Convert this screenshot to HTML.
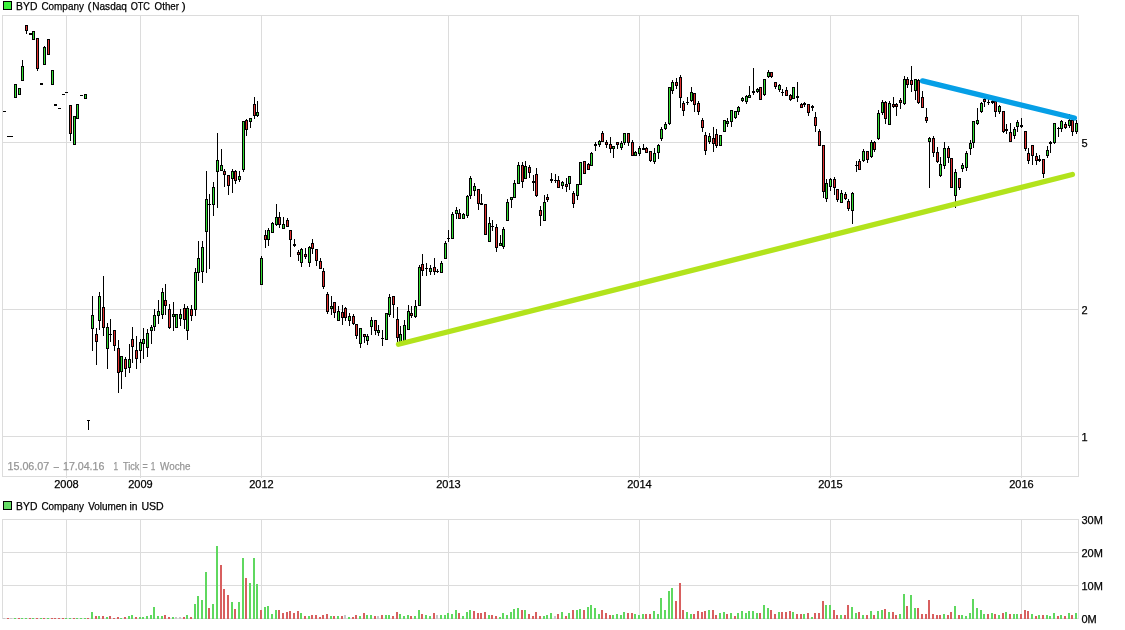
<!DOCTYPE html>
<html><head><meta charset="utf-8"><title>BYD Company</title>
<style>
html,body{margin:0;padding:0;background:#fff;}
svg{display:block;will-change:transform;}
text{font-family:"Liberation Sans",Arial,sans-serif;font-size:11px;stroke-width:0.25px;}
</style></head>
<body>
<svg width="1125" height="630" viewBox="0 0 1125 630">
<rect x="0" y="0" width="1125" height="630" fill="#fff"/>
<g shape-rendering="crispEdges">
<rect x="66" y="15" width="1" height="463" fill="#dcdcdc"/>
<rect x="66" y="519" width="1" height="100" fill="#dcdcdc"/>
<rect x="140" y="15" width="1" height="463" fill="#dcdcdc"/>
<rect x="140" y="519" width="1" height="100" fill="#dcdcdc"/>
<rect x="261" y="15" width="1" height="463" fill="#dcdcdc"/>
<rect x="261" y="519" width="1" height="100" fill="#dcdcdc"/>
<rect x="448" y="15" width="1" height="463" fill="#dcdcdc"/>
<rect x="448" y="519" width="1" height="100" fill="#dcdcdc"/>
<rect x="639" y="15" width="1" height="463" fill="#dcdcdc"/>
<rect x="639" y="519" width="1" height="100" fill="#dcdcdc"/>
<rect x="830" y="15" width="1" height="463" fill="#dcdcdc"/>
<rect x="830" y="519" width="1" height="100" fill="#dcdcdc"/>
<rect x="1021" y="15" width="1" height="463" fill="#dcdcdc"/>
<rect x="1021" y="519" width="1" height="100" fill="#dcdcdc"/>
<rect x="2" y="142" width="1077" height="1" fill="#dcdcdc"/>
<rect x="2" y="309" width="1077" height="1" fill="#dcdcdc"/>
<rect x="2" y="436" width="1077" height="1" fill="#dcdcdc"/>
<rect x="2" y="15" width="1077" height="1" fill="#dcdcdc"/>
<rect x="2" y="476" width="1077" height="1" fill="#dcdcdc"/>
<rect x="2" y="15" width="1" height="462" fill="#dcdcdc"/>
<rect x="1078" y="15" width="1" height="462" fill="#dcdcdc"/>
<rect x="2" y="519" width="1077" height="1" fill="#dcdcdc"/>
<rect x="2" y="552" width="1077" height="1" fill="#dcdcdc"/>
<rect x="2" y="585" width="1077" height="1" fill="#dcdcdc"/>
<rect x="2" y="618" width="1077" height="1" fill="#dcdcdc"/>
<rect x="2" y="519" width="1" height="100" fill="#dcdcdc"/>
<rect x="1078" y="519" width="1" height="100" fill="#dcdcdc"/>
<rect x="3" y="618" width="2" height="1" fill="#c8c8c8"/>
<rect x="7" y="618" width="2" height="1" fill="#d85f5f"/>
<rect x="10" y="618" width="2" height="1" fill="#c8c8c8"/>
<rect x="14" y="618" width="2" height="1" fill="#5fd85f"/>
<rect x="18" y="618" width="2" height="1" fill="#d85f5f"/>
<rect x="21" y="618" width="2" height="1" fill="#5fd85f"/>
<rect x="25" y="618" width="2" height="1" fill="#5fd85f"/>
<rect x="29" y="618" width="2" height="1" fill="#d85f5f"/>
<rect x="32" y="618" width="2" height="1" fill="#5fd85f"/>
<rect x="36" y="618" width="2" height="1" fill="#d85f5f"/>
<rect x="40" y="618" width="2" height="1" fill="#5fd85f"/>
<rect x="43" y="618" width="2" height="1" fill="#d85f5f"/>
<rect x="47" y="618" width="2" height="1" fill="#5fd85f"/>
<rect x="51" y="618" width="2" height="1" fill="#d85f5f"/>
<rect x="54" y="618" width="2" height="1" fill="#d85f5f"/>
<rect x="58" y="618" width="2" height="1" fill="#d85f5f"/>
<rect x="62" y="618" width="2" height="1" fill="#d85f5f"/>
<rect x="65" y="618" width="2" height="1" fill="#5fd85f"/>
<rect x="69" y="618" width="2" height="1" fill="#5fd85f"/>
<rect x="73" y="618" width="2" height="1" fill="#d85f5f"/>
<rect x="76" y="618" width="2" height="1" fill="#5fd85f"/>
<rect x="80" y="618" width="2" height="1" fill="#5fd85f"/>
<rect x="84" y="618" width="2" height="1" fill="#5fd85f"/>
<rect x="87" y="618" width="2" height="1" fill="#d85f5f"/>
<rect x="91" y="612" width="2" height="7" fill="#5fd85f"/>
<rect x="95" y="616" width="2" height="3" fill="#d85f5f"/>
<rect x="98" y="616" width="2" height="3" fill="#5fd85f"/>
<rect x="102" y="616" width="2" height="3" fill="#d85f5f"/>
<rect x="106" y="617" width="2" height="2" fill="#5fd85f"/>
<rect x="109" y="616" width="2" height="3" fill="#d85f5f"/>
<rect x="113" y="618" width="2" height="1" fill="#d85f5f"/>
<rect x="117" y="617" width="2" height="2" fill="#d85f5f"/>
<rect x="120" y="618" width="2" height="1" fill="#5fd85f"/>
<rect x="124" y="617" width="2" height="2" fill="#d85f5f"/>
<rect x="128" y="616" width="2" height="3" fill="#5fd85f"/>
<rect x="131" y="615" width="2" height="4" fill="#5fd85f"/>
<rect x="135" y="617" width="2" height="2" fill="#d85f5f"/>
<rect x="139" y="617" width="2" height="2" fill="#5fd85f"/>
<rect x="142" y="617" width="2" height="2" fill="#5fd85f"/>
<rect x="146" y="616" width="2" height="3" fill="#5fd85f"/>
<rect x="150" y="615" width="2" height="4" fill="#5fd85f"/>
<rect x="153" y="607" width="2" height="12" fill="#5fd85f"/>
<rect x="157" y="616" width="2" height="3" fill="#5fd85f"/>
<rect x="161" y="616" width="2" height="3" fill="#5fd85f"/>
<rect x="164" y="615" width="2" height="4" fill="#d85f5f"/>
<rect x="168" y="617" width="2" height="2" fill="#d85f5f"/>
<rect x="172" y="617" width="2" height="2" fill="#5fd85f"/>
<rect x="175" y="617" width="2" height="2" fill="#c8c8c8"/>
<rect x="179" y="617" width="2" height="2" fill="#c8c8c8"/>
<rect x="183" y="617" width="2" height="2" fill="#d85f5f"/>
<rect x="186" y="615" width="2" height="4" fill="#5fd85f"/>
<rect x="190" y="617" width="2" height="2" fill="#d85f5f"/>
<rect x="194" y="604" width="2" height="15" fill="#5fd85f"/>
<rect x="197" y="596" width="2" height="23" fill="#5fd85f"/>
<rect x="201" y="600" width="2" height="19" fill="#5fd85f"/>
<rect x="205" y="572" width="2" height="47" fill="#5fd85f"/>
<rect x="208" y="608" width="2" height="11" fill="#d85f5f"/>
<rect x="212" y="604" width="2" height="15" fill="#5fd85f"/>
<rect x="216" y="546" width="2" height="73" fill="#5fd85f"/>
<rect x="220" y="565" width="2" height="54" fill="#d85f5f"/>
<rect x="223" y="589" width="2" height="30" fill="#d85f5f"/>
<rect x="227" y="595" width="2" height="24" fill="#d85f5f"/>
<rect x="231" y="602" width="2" height="17" fill="#5fd85f"/>
<rect x="234" y="609" width="2" height="10" fill="#d85f5f"/>
<rect x="238" y="602" width="2" height="17" fill="#5fd85f"/>
<rect x="242" y="558" width="2" height="61" fill="#5fd85f"/>
<rect x="245" y="578" width="2" height="41" fill="#d85f5f"/>
<rect x="249" y="583" width="2" height="36" fill="#5fd85f"/>
<rect x="253" y="558" width="2" height="61" fill="#5fd85f"/>
<rect x="256" y="584" width="2" height="35" fill="#5fd85f"/>
<rect x="260" y="610" width="2" height="9" fill="#d85f5f"/>
<rect x="264" y="607" width="2" height="12" fill="#5fd85f"/>
<rect x="267" y="606" width="2" height="13" fill="#5fd85f"/>
<rect x="271" y="614" width="2" height="5" fill="#5fd85f"/>
<rect x="275" y="610" width="2" height="9" fill="#5fd85f"/>
<rect x="278" y="610" width="2" height="9" fill="#d85f5f"/>
<rect x="282" y="613" width="2" height="6" fill="#d85f5f"/>
<rect x="286" y="612" width="2" height="7" fill="#d85f5f"/>
<rect x="289" y="611" width="2" height="8" fill="#d85f5f"/>
<rect x="293" y="613" width="2" height="6" fill="#d85f5f"/>
<rect x="297" y="611" width="2" height="8" fill="#d85f5f"/>
<rect x="300" y="613" width="2" height="6" fill="#5fd85f"/>
<rect x="304" y="616" width="2" height="3" fill="#d85f5f"/>
<rect x="308" y="616" width="2" height="3" fill="#5fd85f"/>
<rect x="311" y="615" width="2" height="4" fill="#d85f5f"/>
<rect x="315" y="615" width="2" height="4" fill="#d85f5f"/>
<rect x="319" y="617" width="2" height="2" fill="#d85f5f"/>
<rect x="322" y="615" width="2" height="4" fill="#d85f5f"/>
<rect x="326" y="614" width="2" height="5" fill="#d85f5f"/>
<rect x="330" y="616" width="2" height="3" fill="#5fd85f"/>
<rect x="333" y="616" width="2" height="3" fill="#d85f5f"/>
<rect x="337" y="616" width="2" height="3" fill="#5fd85f"/>
<rect x="341" y="616" width="2" height="3" fill="#d85f5f"/>
<rect x="344" y="615" width="2" height="4" fill="#c8c8c8"/>
<rect x="348" y="617" width="2" height="2" fill="#5fd85f"/>
<rect x="352" y="617" width="2" height="2" fill="#d85f5f"/>
<rect x="355" y="615" width="2" height="4" fill="#d85f5f"/>
<rect x="359" y="616" width="2" height="3" fill="#5fd85f"/>
<rect x="363" y="613" width="2" height="6" fill="#d85f5f"/>
<rect x="366" y="615" width="2" height="4" fill="#5fd85f"/>
<rect x="370" y="615" width="2" height="4" fill="#5fd85f"/>
<rect x="374" y="616" width="2" height="3" fill="#d85f5f"/>
<rect x="377" y="616" width="2" height="3" fill="#c8c8c8"/>
<rect x="381" y="615" width="2" height="4" fill="#d85f5f"/>
<rect x="385" y="615" width="2" height="4" fill="#5fd85f"/>
<rect x="388" y="615" width="2" height="4" fill="#5fd85f"/>
<rect x="392" y="616" width="2" height="3" fill="#d85f5f"/>
<rect x="396" y="612" width="2" height="7" fill="#d85f5f"/>
<rect x="399" y="614" width="2" height="5" fill="#5fd85f"/>
<rect x="403" y="616" width="2" height="3" fill="#5fd85f"/>
<rect x="407" y="615" width="2" height="4" fill="#5fd85f"/>
<rect x="410" y="616" width="2" height="3" fill="#d85f5f"/>
<rect x="414" y="616" width="2" height="3" fill="#5fd85f"/>
<rect x="418" y="610" width="2" height="9" fill="#5fd85f"/>
<rect x="421" y="614" width="2" height="5" fill="#d85f5f"/>
<rect x="425" y="615" width="2" height="4" fill="#5fd85f"/>
<rect x="429" y="616" width="2" height="3" fill="#5fd85f"/>
<rect x="433" y="613" width="2" height="6" fill="#d85f5f"/>
<rect x="436" y="615" width="2" height="4" fill="#c8c8c8"/>
<rect x="440" y="615" width="2" height="4" fill="#5fd85f"/>
<rect x="444" y="615" width="2" height="4" fill="#5fd85f"/>
<rect x="447" y="613" width="2" height="6" fill="#5fd85f"/>
<rect x="451" y="614" width="2" height="5" fill="#5fd85f"/>
<rect x="455" y="610" width="2" height="9" fill="#5fd85f"/>
<rect x="458" y="613" width="2" height="6" fill="#d85f5f"/>
<rect x="462" y="616" width="2" height="3" fill="#5fd85f"/>
<rect x="466" y="612" width="2" height="7" fill="#5fd85f"/>
<rect x="469" y="610" width="2" height="9" fill="#5fd85f"/>
<rect x="473" y="611" width="2" height="8" fill="#d85f5f"/>
<rect x="477" y="613" width="2" height="6" fill="#d85f5f"/>
<rect x="480" y="613" width="2" height="6" fill="#d85f5f"/>
<rect x="484" y="612" width="2" height="7" fill="#d85f5f"/>
<rect x="488" y="615" width="2" height="4" fill="#5fd85f"/>
<rect x="491" y="615" width="2" height="4" fill="#d85f5f"/>
<rect x="495" y="616" width="2" height="3" fill="#d85f5f"/>
<rect x="499" y="617" width="2" height="2" fill="#5fd85f"/>
<rect x="502" y="613" width="2" height="6" fill="#5fd85f"/>
<rect x="506" y="615" width="2" height="4" fill="#5fd85f"/>
<rect x="510" y="612" width="2" height="7" fill="#5fd85f"/>
<rect x="513" y="609" width="2" height="10" fill="#5fd85f"/>
<rect x="517" y="608" width="2" height="11" fill="#5fd85f"/>
<rect x="521" y="610" width="2" height="9" fill="#d85f5f"/>
<rect x="524" y="610" width="2" height="9" fill="#5fd85f"/>
<rect x="528" y="614" width="2" height="5" fill="#d85f5f"/>
<rect x="532" y="616" width="2" height="3" fill="#d85f5f"/>
<rect x="535" y="612" width="2" height="7" fill="#d85f5f"/>
<rect x="539" y="616" width="2" height="3" fill="#d85f5f"/>
<rect x="543" y="616" width="2" height="3" fill="#5fd85f"/>
<rect x="546" y="615" width="2" height="4" fill="#5fd85f"/>
<rect x="550" y="613" width="2" height="6" fill="#5fd85f"/>
<rect x="554" y="616" width="2" height="3" fill="#c8c8c8"/>
<rect x="557" y="614" width="2" height="5" fill="#d85f5f"/>
<rect x="561" y="612" width="2" height="7" fill="#5fd85f"/>
<rect x="565" y="616" width="2" height="3" fill="#d85f5f"/>
<rect x="568" y="613" width="2" height="6" fill="#5fd85f"/>
<rect x="572" y="610" width="2" height="9" fill="#d85f5f"/>
<rect x="576" y="610" width="2" height="9" fill="#5fd85f"/>
<rect x="579" y="609" width="2" height="10" fill="#5fd85f"/>
<rect x="583" y="610" width="2" height="9" fill="#d85f5f"/>
<rect x="587" y="607" width="2" height="12" fill="#5fd85f"/>
<rect x="590" y="605" width="2" height="14" fill="#5fd85f"/>
<rect x="594" y="608" width="2" height="11" fill="#5fd85f"/>
<rect x="598" y="614" width="2" height="5" fill="#5fd85f"/>
<rect x="601" y="610" width="2" height="9" fill="#d85f5f"/>
<rect x="605" y="613" width="2" height="6" fill="#d85f5f"/>
<rect x="609" y="615" width="2" height="4" fill="#d85f5f"/>
<rect x="612" y="615" width="2" height="4" fill="#5fd85f"/>
<rect x="616" y="614" width="2" height="5" fill="#5fd85f"/>
<rect x="620" y="615" width="2" height="4" fill="#5fd85f"/>
<rect x="623" y="612" width="2" height="7" fill="#5fd85f"/>
<rect x="627" y="613" width="2" height="6" fill="#d85f5f"/>
<rect x="631" y="613" width="2" height="6" fill="#d85f5f"/>
<rect x="634" y="614" width="2" height="5" fill="#5fd85f"/>
<rect x="638" y="615" width="2" height="4" fill="#5fd85f"/>
<rect x="642" y="614" width="2" height="5" fill="#5fd85f"/>
<rect x="645" y="614" width="2" height="5" fill="#d85f5f"/>
<rect x="649" y="614" width="2" height="5" fill="#d85f5f"/>
<rect x="653" y="611" width="2" height="8" fill="#5fd85f"/>
<rect x="657" y="614" width="2" height="5" fill="#5fd85f"/>
<rect x="660" y="598" width="2" height="21" fill="#5fd85f"/>
<rect x="664" y="610" width="2" height="9" fill="#5fd85f"/>
<rect x="668" y="591" width="2" height="28" fill="#5fd85f"/>
<rect x="671" y="588" width="2" height="31" fill="#5fd85f"/>
<rect x="675" y="601" width="2" height="18" fill="#d85f5f"/>
<rect x="679" y="583" width="2" height="36" fill="#d85f5f"/>
<rect x="682" y="610" width="2" height="9" fill="#d85f5f"/>
<rect x="686" y="612" width="2" height="7" fill="#5fd85f"/>
<rect x="690" y="614" width="2" height="5" fill="#5fd85f"/>
<rect x="693" y="614" width="2" height="5" fill="#d85f5f"/>
<rect x="697" y="611" width="2" height="8" fill="#d85f5f"/>
<rect x="701" y="612" width="2" height="7" fill="#d85f5f"/>
<rect x="704" y="611" width="2" height="8" fill="#d85f5f"/>
<rect x="708" y="610" width="2" height="9" fill="#5fd85f"/>
<rect x="712" y="610" width="2" height="9" fill="#d85f5f"/>
<rect x="715" y="615" width="2" height="4" fill="#d85f5f"/>
<rect x="719" y="613" width="2" height="6" fill="#5fd85f"/>
<rect x="723" y="612" width="2" height="7" fill="#5fd85f"/>
<rect x="726" y="614" width="2" height="5" fill="#d85f5f"/>
<rect x="730" y="613" width="2" height="6" fill="#5fd85f"/>
<rect x="734" y="616" width="2" height="3" fill="#d85f5f"/>
<rect x="737" y="613" width="2" height="6" fill="#5fd85f"/>
<rect x="741" y="611" width="2" height="8" fill="#5fd85f"/>
<rect x="745" y="613" width="2" height="6" fill="#5fd85f"/>
<rect x="748" y="611" width="2" height="8" fill="#5fd85f"/>
<rect x="752" y="611" width="2" height="8" fill="#5fd85f"/>
<rect x="756" y="613" width="2" height="6" fill="#5fd85f"/>
<rect x="759" y="613" width="2" height="6" fill="#d85f5f"/>
<rect x="763" y="605" width="2" height="14" fill="#5fd85f"/>
<rect x="767" y="608" width="2" height="11" fill="#5fd85f"/>
<rect x="770" y="610" width="2" height="9" fill="#d85f5f"/>
<rect x="774" y="614" width="2" height="5" fill="#d85f5f"/>
<rect x="778" y="612" width="2" height="7" fill="#5fd85f"/>
<rect x="781" y="612" width="2" height="7" fill="#d85f5f"/>
<rect x="785" y="612" width="2" height="7" fill="#d85f5f"/>
<rect x="789" y="611" width="2" height="8" fill="#d85f5f"/>
<rect x="792" y="612" width="2" height="7" fill="#5fd85f"/>
<rect x="796" y="614" width="2" height="5" fill="#d85f5f"/>
<rect x="800" y="614" width="2" height="5" fill="#d85f5f"/>
<rect x="803" y="614" width="2" height="5" fill="#5fd85f"/>
<rect x="807" y="613" width="2" height="6" fill="#d85f5f"/>
<rect x="811" y="617" width="2" height="2" fill="#5fd85f"/>
<rect x="814" y="613" width="2" height="6" fill="#d85f5f"/>
<rect x="818" y="613" width="2" height="6" fill="#d85f5f"/>
<rect x="822" y="601" width="2" height="18" fill="#d85f5f"/>
<rect x="825" y="605" width="2" height="14" fill="#5fd85f"/>
<rect x="829" y="605" width="2" height="14" fill="#5fd85f"/>
<rect x="833" y="610" width="2" height="9" fill="#d85f5f"/>
<rect x="836" y="615" width="2" height="4" fill="#d85f5f"/>
<rect x="840" y="615" width="2" height="4" fill="#5fd85f"/>
<rect x="844" y="615" width="2" height="4" fill="#d85f5f"/>
<rect x="847" y="605" width="2" height="14" fill="#d85f5f"/>
<rect x="851" y="607" width="2" height="12" fill="#5fd85f"/>
<rect x="855" y="613" width="2" height="6" fill="#5fd85f"/>
<rect x="858" y="612" width="2" height="7" fill="#d85f5f"/>
<rect x="862" y="615" width="2" height="4" fill="#5fd85f"/>
<rect x="866" y="615" width="2" height="4" fill="#d85f5f"/>
<rect x="870" y="611" width="2" height="8" fill="#5fd85f"/>
<rect x="873" y="615" width="2" height="4" fill="#d85f5f"/>
<rect x="877" y="611" width="2" height="8" fill="#5fd85f"/>
<rect x="881" y="610" width="2" height="9" fill="#5fd85f"/>
<rect x="884" y="609" width="2" height="10" fill="#d85f5f"/>
<rect x="888" y="612" width="2" height="7" fill="#5fd85f"/>
<rect x="892" y="612" width="2" height="7" fill="#d85f5f"/>
<rect x="895" y="615" width="2" height="4" fill="#d85f5f"/>
<rect x="899" y="614" width="2" height="5" fill="#5fd85f"/>
<rect x="903" y="594" width="2" height="25" fill="#5fd85f"/>
<rect x="906" y="606" width="2" height="13" fill="#d85f5f"/>
<rect x="910" y="595" width="2" height="24" fill="#5fd85f"/>
<rect x="914" y="608" width="2" height="11" fill="#5fd85f"/>
<rect x="917" y="608" width="2" height="11" fill="#d85f5f"/>
<rect x="921" y="614" width="2" height="5" fill="#d85f5f"/>
<rect x="925" y="614" width="2" height="5" fill="#d85f5f"/>
<rect x="928" y="600" width="2" height="19" fill="#d85f5f"/>
<rect x="932" y="614" width="2" height="5" fill="#d85f5f"/>
<rect x="936" y="615" width="2" height="4" fill="#d85f5f"/>
<rect x="939" y="615" width="2" height="4" fill="#d85f5f"/>
<rect x="943" y="614" width="2" height="5" fill="#5fd85f"/>
<rect x="947" y="615" width="2" height="4" fill="#d85f5f"/>
<rect x="950" y="612" width="2" height="7" fill="#d85f5f"/>
<rect x="954" y="606" width="2" height="13" fill="#5fd85f"/>
<rect x="958" y="615" width="2" height="4" fill="#d85f5f"/>
<rect x="961" y="615" width="2" height="4" fill="#5fd85f"/>
<rect x="965" y="616" width="2" height="3" fill="#5fd85f"/>
<rect x="969" y="613" width="2" height="6" fill="#5fd85f"/>
<rect x="972" y="599" width="2" height="20" fill="#5fd85f"/>
<rect x="976" y="608" width="2" height="11" fill="#5fd85f"/>
<rect x="980" y="610" width="2" height="9" fill="#5fd85f"/>
<rect x="983" y="614" width="2" height="5" fill="#5fd85f"/>
<rect x="987" y="614" width="2" height="5" fill="#d85f5f"/>
<rect x="991" y="613" width="2" height="6" fill="#5fd85f"/>
<rect x="994" y="614" width="2" height="5" fill="#d85f5f"/>
<rect x="998" y="615" width="2" height="4" fill="#5fd85f"/>
<rect x="1002" y="613" width="2" height="6" fill="#d85f5f"/>
<rect x="1005" y="612" width="2" height="7" fill="#5fd85f"/>
<rect x="1009" y="614" width="2" height="5" fill="#d85f5f"/>
<rect x="1013" y="614" width="2" height="5" fill="#5fd85f"/>
<rect x="1016" y="614" width="2" height="5" fill="#5fd85f"/>
<rect x="1020" y="614" width="2" height="5" fill="#d85f5f"/>
<rect x="1024" y="610" width="2" height="9" fill="#d85f5f"/>
<rect x="1027" y="611" width="2" height="8" fill="#d85f5f"/>
<rect x="1031" y="614" width="2" height="5" fill="#5fd85f"/>
<rect x="1035" y="616" width="2" height="3" fill="#d85f5f"/>
<rect x="1038" y="615" width="2" height="4" fill="#5fd85f"/>
<rect x="1042" y="615" width="2" height="4" fill="#d85f5f"/>
<rect x="1046" y="615" width="2" height="4" fill="#5fd85f"/>
<rect x="1049" y="616" width="2" height="3" fill="#5fd85f"/>
<rect x="1053" y="613" width="2" height="6" fill="#5fd85f"/>
<rect x="1057" y="616" width="2" height="3" fill="#d85f5f"/>
<rect x="1060" y="615" width="2" height="4" fill="#5fd85f"/>
<rect x="1064" y="616" width="2" height="3" fill="#d85f5f"/>
<rect x="1068" y="613" width="2" height="6" fill="#5fd85f"/>
<rect x="1071" y="615" width="2" height="4" fill="#d85f5f"/>
<rect x="1075" y="613" width="2" height="6" fill="#5fd85f"/>
<rect x="3" y="111" width="3" height="1" fill="#000"/>
<rect x="7" y="136" width="3" height="1" fill="#000"/>
<rect x="10" y="136" width="3" height="1" fill="#000"/>
<rect x="15" y="84" width="1" height="14" fill="#000"/>
<rect x="14" y="84" width="3" height="14" fill="#000"/>
<rect x="15" y="85" width="1" height="12" fill="#33dd33"/>
<rect x="19" y="88" width="1" height="7" fill="#000"/>
<rect x="18" y="88" width="3" height="7" fill="#000"/>
<rect x="19" y="89" width="1" height="5" fill="#33dd33"/>
<rect x="22" y="60" width="1" height="21" fill="#000"/>
<rect x="21" y="66" width="3" height="15" fill="#000"/>
<rect x="22" y="67" width="1" height="13" fill="#33dd33"/>
<rect x="26" y="25" width="1" height="9" fill="#000"/>
<rect x="25" y="25" width="3" height="6" fill="#000"/>
<rect x="26" y="26" width="1" height="4" fill="#e03030"/>
<rect x="30" y="33" width="1" height="2" fill="#000"/>
<rect x="29" y="33" width="3" height="2" fill="#000"/>
<rect x="33" y="31" width="1" height="9" fill="#000"/>
<rect x="32" y="31" width="3" height="9" fill="#000"/>
<rect x="33" y="32" width="1" height="7" fill="#33dd33"/>
<rect x="37" y="38" width="1" height="33" fill="#000"/>
<rect x="36" y="38" width="3" height="31" fill="#000"/>
<rect x="37" y="39" width="1" height="29" fill="#e03030"/>
<rect x="41" y="83" width="1" height="2" fill="#000"/>
<rect x="40" y="83" width="3" height="2" fill="#000"/>
<rect x="44" y="46" width="1" height="19" fill="#000"/>
<rect x="43" y="47" width="3" height="18" fill="#000"/>
<rect x="44" y="48" width="1" height="16" fill="#33dd33"/>
<rect x="48" y="39" width="1" height="16" fill="#000"/>
<rect x="47" y="39" width="3" height="16" fill="#000"/>
<rect x="48" y="40" width="1" height="14" fill="#e03030"/>
<rect x="52" y="70" width="1" height="15" fill="#000"/>
<rect x="51" y="70" width="3" height="15" fill="#000"/>
<rect x="52" y="71" width="1" height="13" fill="#33dd33"/>
<rect x="55" y="104" width="1" height="1" fill="#000"/>
<rect x="54" y="104" width="3" height="2" fill="#000"/>
<rect x="58" y="108" width="3" height="1" fill="#000"/>
<rect x="62" y="94" width="3" height="1" fill="#000"/>
<rect x="65" y="92" width="3" height="1" fill="#000"/>
<rect x="70" y="105" width="1" height="36" fill="#000"/>
<rect x="69" y="105" width="3" height="29" fill="#000"/>
<rect x="70" y="106" width="1" height="27" fill="#e03030"/>
<rect x="74" y="116" width="1" height="29" fill="#000"/>
<rect x="73" y="116" width="3" height="29" fill="#000"/>
<rect x="74" y="117" width="1" height="27" fill="#33dd33"/>
<rect x="77" y="104" width="1" height="15" fill="#000"/>
<rect x="76" y="104" width="3" height="15" fill="#000"/>
<rect x="77" y="105" width="1" height="13" fill="#33dd33"/>
<rect x="80" y="95" width="3" height="1" fill="#000"/>
<rect x="85" y="94" width="1" height="5" fill="#000"/>
<rect x="84" y="94" width="3" height="5" fill="#000"/>
<rect x="85" y="95" width="1" height="3" fill="#33dd33"/>
<rect x="88" y="420" width="1" height="10" fill="#000"/>
<rect x="87" y="420" width="3" height="1" fill="#000"/>
<rect x="92" y="296" width="1" height="55" fill="#000"/>
<rect x="91" y="315" width="3" height="14" fill="#000"/>
<rect x="92" y="316" width="1" height="12" fill="#33dd33"/>
<rect x="96" y="328" width="1" height="37" fill="#000"/>
<rect x="95" y="334" width="3" height="8" fill="#000"/>
<rect x="96" y="335" width="1" height="6" fill="#e03030"/>
<rect x="99" y="292" width="1" height="38" fill="#000"/>
<rect x="98" y="296" width="3" height="25" fill="#000"/>
<rect x="99" y="297" width="1" height="23" fill="#33dd33"/>
<rect x="103" y="276" width="1" height="60" fill="#000"/>
<rect x="102" y="307" width="3" height="21" fill="#000"/>
<rect x="103" y="308" width="1" height="19" fill="#e03030"/>
<rect x="107" y="323" width="1" height="46" fill="#000"/>
<rect x="106" y="327" width="3" height="22" fill="#000"/>
<rect x="107" y="328" width="1" height="20" fill="#33dd33"/>
<rect x="110" y="319" width="1" height="23" fill="#000"/>
<rect x="109" y="334" width="3" height="1" fill="#000"/>
<rect x="114" y="330" width="1" height="21" fill="#000"/>
<rect x="113" y="330" width="3" height="16" fill="#000"/>
<rect x="114" y="331" width="1" height="14" fill="#e03030"/>
<rect x="118" y="340" width="1" height="53" fill="#000"/>
<rect x="117" y="348" width="3" height="25" fill="#000"/>
<rect x="118" y="349" width="1" height="23" fill="#e03030"/>
<rect x="121" y="356" width="1" height="33" fill="#000"/>
<rect x="120" y="356" width="3" height="16" fill="#000"/>
<rect x="121" y="357" width="1" height="14" fill="#33dd33"/>
<rect x="125" y="357" width="1" height="20" fill="#000"/>
<rect x="124" y="359" width="3" height="10" fill="#000"/>
<rect x="125" y="360" width="1" height="8" fill="#e03030"/>
<rect x="129" y="344" width="1" height="29" fill="#000"/>
<rect x="128" y="359" width="3" height="9" fill="#000"/>
<rect x="129" y="360" width="1" height="7" fill="#33dd33"/>
<rect x="132" y="327" width="1" height="36" fill="#000"/>
<rect x="131" y="339" width="3" height="8" fill="#000"/>
<rect x="132" y="340" width="1" height="6" fill="#e03030"/>
<rect x="136" y="336" width="1" height="33" fill="#000"/>
<rect x="135" y="350" width="3" height="9" fill="#000"/>
<rect x="136" y="351" width="1" height="7" fill="#e03030"/>
<rect x="140" y="339" width="1" height="24" fill="#000"/>
<rect x="139" y="342" width="3" height="9" fill="#000"/>
<rect x="140" y="343" width="1" height="7" fill="#33dd33"/>
<rect x="143" y="328" width="1" height="31" fill="#000"/>
<rect x="142" y="339" width="3" height="5" fill="#000"/>
<rect x="143" y="340" width="1" height="3" fill="#33dd33"/>
<rect x="147" y="329" width="1" height="28" fill="#000"/>
<rect x="146" y="333" width="3" height="15" fill="#000"/>
<rect x="147" y="334" width="1" height="13" fill="#33dd33"/>
<rect x="151" y="325" width="1" height="19" fill="#000"/>
<rect x="150" y="327" width="3" height="4" fill="#000"/>
<rect x="151" y="328" width="1" height="2" fill="#33dd33"/>
<rect x="154" y="309" width="1" height="22" fill="#000"/>
<rect x="153" y="315" width="3" height="12" fill="#000"/>
<rect x="154" y="316" width="1" height="10" fill="#33dd33"/>
<rect x="158" y="300" width="1" height="24" fill="#000"/>
<rect x="157" y="311" width="3" height="5" fill="#000"/>
<rect x="158" y="312" width="1" height="3" fill="#33dd33"/>
<rect x="162" y="288" width="1" height="31" fill="#000"/>
<rect x="161" y="292" width="3" height="23" fill="#000"/>
<rect x="162" y="293" width="1" height="21" fill="#33dd33"/>
<rect x="165" y="284" width="1" height="31" fill="#000"/>
<rect x="164" y="300" width="3" height="6" fill="#000"/>
<rect x="165" y="301" width="1" height="4" fill="#e03030"/>
<rect x="169" y="304" width="1" height="25" fill="#000"/>
<rect x="168" y="309" width="3" height="19" fill="#000"/>
<rect x="169" y="310" width="1" height="17" fill="#e03030"/>
<rect x="173" y="302" width="1" height="29" fill="#000"/>
<rect x="172" y="314" width="3" height="3" fill="#000"/>
<rect x="173" y="315" width="1" height="1" fill="#33dd33"/>
<rect x="176" y="314" width="1" height="14" fill="#000"/>
<rect x="175" y="314" width="3" height="14" fill="#000"/>
<rect x="176" y="315" width="1" height="12" fill="#33dd33"/>
<rect x="180" y="309" width="1" height="17" fill="#000"/>
<rect x="179" y="314" width="3" height="5" fill="#000"/>
<rect x="180" y="315" width="1" height="3" fill="#33dd33"/>
<rect x="184" y="304" width="1" height="25" fill="#000"/>
<rect x="183" y="308" width="3" height="12" fill="#000"/>
<rect x="184" y="309" width="1" height="10" fill="#e03030"/>
<rect x="187" y="306" width="1" height="34" fill="#000"/>
<rect x="186" y="308" width="3" height="23" fill="#000"/>
<rect x="187" y="309" width="1" height="21" fill="#33dd33"/>
<rect x="191" y="305" width="1" height="16" fill="#000"/>
<rect x="190" y="309" width="3" height="7" fill="#000"/>
<rect x="191" y="310" width="1" height="5" fill="#e03030"/>
<rect x="195" y="268" width="1" height="48" fill="#000"/>
<rect x="194" y="272" width="3" height="38" fill="#000"/>
<rect x="195" y="273" width="1" height="36" fill="#33dd33"/>
<rect x="198" y="241" width="1" height="40" fill="#000"/>
<rect x="197" y="258" width="3" height="15" fill="#000"/>
<rect x="198" y="259" width="1" height="13" fill="#33dd33"/>
<rect x="202" y="241" width="1" height="42" fill="#000"/>
<rect x="201" y="247" width="3" height="25" fill="#000"/>
<rect x="202" y="248" width="1" height="23" fill="#33dd33"/>
<rect x="206" y="171" width="1" height="102" fill="#000"/>
<rect x="205" y="199" width="3" height="33" fill="#000"/>
<rect x="206" y="200" width="1" height="31" fill="#33dd33"/>
<rect x="209" y="194" width="1" height="75" fill="#000"/>
<rect x="208" y="204" width="3" height="1" fill="#000"/>
<rect x="213" y="182" width="1" height="34" fill="#000"/>
<rect x="212" y="187" width="3" height="18" fill="#000"/>
<rect x="213" y="188" width="1" height="16" fill="#33dd33"/>
<rect x="217" y="133" width="1" height="75" fill="#000"/>
<rect x="216" y="160" width="3" height="12" fill="#000"/>
<rect x="217" y="161" width="1" height="10" fill="#33dd33"/>
<rect x="221" y="149" width="1" height="22" fill="#000"/>
<rect x="220" y="165" width="3" height="6" fill="#000"/>
<rect x="221" y="166" width="1" height="4" fill="#33dd33"/>
<rect x="224" y="169" width="1" height="18" fill="#000"/>
<rect x="223" y="171" width="3" height="4" fill="#000"/>
<rect x="224" y="172" width="1" height="2" fill="#e03030"/>
<rect x="228" y="175" width="1" height="20" fill="#000"/>
<rect x="227" y="175" width="3" height="11" fill="#000"/>
<rect x="228" y="176" width="1" height="9" fill="#e03030"/>
<rect x="232" y="169" width="1" height="24" fill="#000"/>
<rect x="231" y="171" width="3" height="8" fill="#000"/>
<rect x="232" y="172" width="1" height="6" fill="#33dd33"/>
<rect x="235" y="170" width="1" height="14" fill="#000"/>
<rect x="234" y="171" width="3" height="10" fill="#000"/>
<rect x="235" y="172" width="1" height="8" fill="#e03030"/>
<rect x="239" y="171" width="1" height="11" fill="#000"/>
<rect x="238" y="176" width="3" height="4" fill="#000"/>
<rect x="239" y="177" width="1" height="2" fill="#33dd33"/>
<rect x="243" y="121" width="1" height="51" fill="#000"/>
<rect x="242" y="121" width="3" height="49" fill="#000"/>
<rect x="243" y="122" width="1" height="47" fill="#33dd33"/>
<rect x="246" y="119" width="1" height="17" fill="#000"/>
<rect x="245" y="120" width="3" height="10" fill="#000"/>
<rect x="246" y="121" width="1" height="8" fill="#e03030"/>
<rect x="250" y="118" width="1" height="10" fill="#000"/>
<rect x="249" y="118" width="3" height="4" fill="#000"/>
<rect x="250" y="119" width="1" height="2" fill="#33dd33"/>
<rect x="254" y="97" width="1" height="22" fill="#000"/>
<rect x="253" y="104" width="3" height="12" fill="#000"/>
<rect x="254" y="105" width="1" height="10" fill="#e03030"/>
<rect x="257" y="101" width="1" height="16" fill="#000"/>
<rect x="256" y="112" width="3" height="4" fill="#000"/>
<rect x="257" y="113" width="1" height="2" fill="#33dd33"/>
<rect x="261" y="256" width="1" height="29" fill="#000"/>
<rect x="260" y="258" width="3" height="27" fill="#000"/>
<rect x="261" y="259" width="1" height="25" fill="#33dd33"/>
<rect x="265" y="230" width="1" height="18" fill="#000"/>
<rect x="264" y="235" width="3" height="5" fill="#000"/>
<rect x="265" y="236" width="1" height="3" fill="#e03030"/>
<rect x="268" y="228" width="1" height="18" fill="#000"/>
<rect x="267" y="230" width="3" height="10" fill="#000"/>
<rect x="268" y="231" width="1" height="8" fill="#33dd33"/>
<rect x="272" y="222" width="1" height="11" fill="#000"/>
<rect x="271" y="223" width="3" height="10" fill="#000"/>
<rect x="272" y="224" width="1" height="8" fill="#33dd33"/>
<rect x="276" y="204" width="1" height="22" fill="#000"/>
<rect x="275" y="217" width="3" height="8" fill="#000"/>
<rect x="276" y="218" width="1" height="6" fill="#33dd33"/>
<rect x="279" y="212" width="1" height="16" fill="#000"/>
<rect x="278" y="217" width="3" height="8" fill="#000"/>
<rect x="279" y="218" width="1" height="6" fill="#e03030"/>
<rect x="283" y="217" width="1" height="12" fill="#000"/>
<rect x="282" y="224" width="3" height="5" fill="#000"/>
<rect x="283" y="225" width="1" height="3" fill="#33dd33"/>
<rect x="287" y="218" width="1" height="9" fill="#000"/>
<rect x="286" y="220" width="3" height="7" fill="#000"/>
<rect x="287" y="221" width="1" height="5" fill="#e03030"/>
<rect x="290" y="230" width="1" height="27" fill="#000"/>
<rect x="289" y="230" width="3" height="10" fill="#000"/>
<rect x="290" y="231" width="1" height="8" fill="#e03030"/>
<rect x="294" y="239" width="1" height="8" fill="#000"/>
<rect x="293" y="244" width="3" height="2" fill="#000"/>
<rect x="298" y="250" width="1" height="11" fill="#000"/>
<rect x="297" y="252" width="3" height="3" fill="#000"/>
<rect x="298" y="253" width="1" height="1" fill="#e03030"/>
<rect x="301" y="248" width="1" height="19" fill="#000"/>
<rect x="300" y="249" width="3" height="14" fill="#000"/>
<rect x="301" y="250" width="1" height="12" fill="#33dd33"/>
<rect x="305" y="248" width="1" height="11" fill="#000"/>
<rect x="304" y="254" width="3" height="3" fill="#000"/>
<rect x="305" y="255" width="1" height="1" fill="#e03030"/>
<rect x="309" y="246" width="1" height="21" fill="#000"/>
<rect x="308" y="247" width="3" height="16" fill="#000"/>
<rect x="309" y="248" width="1" height="14" fill="#33dd33"/>
<rect x="312" y="239" width="1" height="15" fill="#000"/>
<rect x="311" y="243" width="3" height="6" fill="#000"/>
<rect x="312" y="244" width="1" height="4" fill="#e03030"/>
<rect x="316" y="249" width="1" height="17" fill="#000"/>
<rect x="315" y="249" width="3" height="12" fill="#000"/>
<rect x="316" y="250" width="1" height="10" fill="#e03030"/>
<rect x="320" y="258" width="1" height="11" fill="#000"/>
<rect x="319" y="261" width="3" height="8" fill="#000"/>
<rect x="320" y="262" width="1" height="6" fill="#e03030"/>
<rect x="323" y="268" width="1" height="21" fill="#000"/>
<rect x="322" y="271" width="3" height="16" fill="#000"/>
<rect x="323" y="272" width="1" height="14" fill="#e03030"/>
<rect x="327" y="292" width="1" height="22" fill="#000"/>
<rect x="326" y="294" width="3" height="18" fill="#000"/>
<rect x="327" y="295" width="1" height="16" fill="#e03030"/>
<rect x="331" y="296" width="1" height="19" fill="#000"/>
<rect x="330" y="306" width="3" height="3" fill="#000"/>
<rect x="331" y="307" width="1" height="1" fill="#33dd33"/>
<rect x="334" y="302" width="1" height="16" fill="#000"/>
<rect x="333" y="302" width="3" height="11" fill="#000"/>
<rect x="334" y="303" width="1" height="9" fill="#e03030"/>
<rect x="338" y="306" width="1" height="15" fill="#000"/>
<rect x="337" y="311" width="3" height="10" fill="#000"/>
<rect x="338" y="312" width="1" height="8" fill="#33dd33"/>
<rect x="342" y="305" width="1" height="20" fill="#000"/>
<rect x="341" y="312" width="3" height="6" fill="#000"/>
<rect x="342" y="313" width="1" height="4" fill="#e03030"/>
<rect x="345" y="307" width="1" height="14" fill="#000"/>
<rect x="344" y="308" width="3" height="10" fill="#000"/>
<rect x="345" y="309" width="1" height="8" fill="#e03030"/>
<rect x="349" y="313" width="1" height="13" fill="#000"/>
<rect x="348" y="316" width="3" height="5" fill="#000"/>
<rect x="349" y="317" width="1" height="3" fill="#33dd33"/>
<rect x="353" y="314" width="1" height="11" fill="#000"/>
<rect x="352" y="316" width="3" height="8" fill="#000"/>
<rect x="353" y="317" width="1" height="6" fill="#e03030"/>
<rect x="356" y="324" width="1" height="15" fill="#000"/>
<rect x="355" y="324" width="3" height="12" fill="#000"/>
<rect x="356" y="325" width="1" height="10" fill="#e03030"/>
<rect x="360" y="328" width="1" height="20" fill="#000"/>
<rect x="359" y="328" width="3" height="16" fill="#000"/>
<rect x="360" y="329" width="1" height="14" fill="#33dd33"/>
<rect x="364" y="334" width="1" height="9" fill="#000"/>
<rect x="363" y="334" width="3" height="3" fill="#000"/>
<rect x="364" y="335" width="1" height="1" fill="#e03030"/>
<rect x="367" y="334" width="1" height="11" fill="#000"/>
<rect x="366" y="336" width="3" height="5" fill="#000"/>
<rect x="367" y="337" width="1" height="3" fill="#33dd33"/>
<rect x="371" y="317" width="1" height="18" fill="#000"/>
<rect x="370" y="320" width="3" height="7" fill="#000"/>
<rect x="371" y="321" width="1" height="5" fill="#33dd33"/>
<rect x="375" y="320" width="1" height="15" fill="#000"/>
<rect x="374" y="320" width="3" height="11" fill="#000"/>
<rect x="375" y="321" width="1" height="9" fill="#e03030"/>
<rect x="378" y="325" width="1" height="11" fill="#000"/>
<rect x="377" y="330" width="3" height="3" fill="#000"/>
<rect x="378" y="331" width="1" height="1" fill="#33dd33"/>
<rect x="382" y="330" width="1" height="16" fill="#000"/>
<rect x="381" y="338" width="3" height="1" fill="#000"/>
<rect x="386" y="313" width="1" height="27" fill="#000"/>
<rect x="385" y="313" width="3" height="27" fill="#000"/>
<rect x="386" y="314" width="1" height="25" fill="#33dd33"/>
<rect x="389" y="294" width="1" height="23" fill="#000"/>
<rect x="388" y="297" width="3" height="18" fill="#000"/>
<rect x="389" y="298" width="1" height="16" fill="#33dd33"/>
<rect x="393" y="296" width="1" height="22" fill="#000"/>
<rect x="392" y="296" width="3" height="9" fill="#000"/>
<rect x="393" y="297" width="1" height="7" fill="#e03030"/>
<rect x="397" y="307" width="1" height="35" fill="#000"/>
<rect x="396" y="319" width="3" height="19" fill="#000"/>
<rect x="397" y="320" width="1" height="17" fill="#e03030"/>
<rect x="400" y="326" width="1" height="16" fill="#000"/>
<rect x="399" y="334" width="3" height="8" fill="#000"/>
<rect x="400" y="335" width="1" height="6" fill="#33dd33"/>
<rect x="404" y="320" width="1" height="21" fill="#000"/>
<rect x="403" y="325" width="3" height="16" fill="#000"/>
<rect x="404" y="326" width="1" height="14" fill="#33dd33"/>
<rect x="408" y="305" width="1" height="25" fill="#000"/>
<rect x="407" y="311" width="3" height="19" fill="#000"/>
<rect x="408" y="312" width="1" height="17" fill="#33dd33"/>
<rect x="411" y="306" width="1" height="12" fill="#000"/>
<rect x="410" y="313" width="3" height="3" fill="#000"/>
<rect x="411" y="314" width="1" height="1" fill="#e03030"/>
<rect x="415" y="300" width="1" height="18" fill="#000"/>
<rect x="414" y="306" width="3" height="11" fill="#000"/>
<rect x="415" y="307" width="1" height="9" fill="#33dd33"/>
<rect x="419" y="265" width="1" height="41" fill="#000"/>
<rect x="418" y="267" width="3" height="39" fill="#000"/>
<rect x="419" y="268" width="1" height="37" fill="#33dd33"/>
<rect x="422" y="254" width="1" height="22" fill="#000"/>
<rect x="421" y="264" width="3" height="7" fill="#000"/>
<rect x="422" y="265" width="1" height="5" fill="#e03030"/>
<rect x="426" y="263" width="1" height="13" fill="#000"/>
<rect x="425" y="268" width="3" height="1" fill="#000"/>
<rect x="430" y="265" width="1" height="10" fill="#000"/>
<rect x="429" y="268" width="3" height="4" fill="#000"/>
<rect x="430" y="269" width="1" height="2" fill="#33dd33"/>
<rect x="434" y="258" width="1" height="17" fill="#000"/>
<rect x="433" y="267" width="3" height="5" fill="#000"/>
<rect x="434" y="268" width="1" height="3" fill="#e03030"/>
<rect x="437" y="269" width="1" height="4" fill="#000"/>
<rect x="436" y="271" width="3" height="1" fill="#000"/>
<rect x="441" y="261" width="1" height="12" fill="#000"/>
<rect x="440" y="263" width="3" height="10" fill="#000"/>
<rect x="441" y="264" width="1" height="8" fill="#33dd33"/>
<rect x="445" y="241" width="1" height="18" fill="#000"/>
<rect x="444" y="243" width="3" height="16" fill="#000"/>
<rect x="445" y="244" width="1" height="14" fill="#33dd33"/>
<rect x="448" y="230" width="1" height="12" fill="#000"/>
<rect x="447" y="238" width="3" height="1" fill="#000"/>
<rect x="452" y="212" width="1" height="27" fill="#000"/>
<rect x="451" y="214" width="3" height="25" fill="#000"/>
<rect x="452" y="215" width="1" height="23" fill="#33dd33"/>
<rect x="456" y="207" width="1" height="12" fill="#000"/>
<rect x="455" y="210" width="3" height="4" fill="#000"/>
<rect x="456" y="211" width="1" height="2" fill="#33dd33"/>
<rect x="459" y="209" width="1" height="10" fill="#000"/>
<rect x="458" y="213" width="3" height="6" fill="#000"/>
<rect x="459" y="214" width="1" height="4" fill="#e03030"/>
<rect x="463" y="213" width="1" height="6" fill="#000"/>
<rect x="462" y="214" width="3" height="5" fill="#000"/>
<rect x="463" y="215" width="1" height="3" fill="#33dd33"/>
<rect x="467" y="195" width="1" height="23" fill="#000"/>
<rect x="466" y="196" width="3" height="20" fill="#000"/>
<rect x="467" y="197" width="1" height="18" fill="#33dd33"/>
<rect x="470" y="176" width="1" height="23" fill="#000"/>
<rect x="469" y="178" width="3" height="18" fill="#000"/>
<rect x="470" y="179" width="1" height="16" fill="#33dd33"/>
<rect x="474" y="183" width="1" height="13" fill="#000"/>
<rect x="473" y="186" width="3" height="5" fill="#000"/>
<rect x="474" y="187" width="1" height="3" fill="#33dd33"/>
<rect x="478" y="189" width="1" height="21" fill="#000"/>
<rect x="477" y="189" width="3" height="15" fill="#000"/>
<rect x="478" y="190" width="1" height="13" fill="#e03030"/>
<rect x="481" y="194" width="1" height="11" fill="#000"/>
<rect x="480" y="203" width="3" height="2" fill="#000"/>
<rect x="485" y="204" width="1" height="31" fill="#000"/>
<rect x="484" y="204" width="3" height="31" fill="#000"/>
<rect x="485" y="205" width="1" height="29" fill="#e03030"/>
<rect x="489" y="217" width="1" height="25" fill="#000"/>
<rect x="488" y="223" width="3" height="19" fill="#000"/>
<rect x="489" y="224" width="1" height="17" fill="#33dd33"/>
<rect x="492" y="220" width="1" height="11" fill="#000"/>
<rect x="491" y="226" width="3" height="1" fill="#000"/>
<rect x="496" y="224" width="1" height="28" fill="#000"/>
<rect x="495" y="227" width="3" height="21" fill="#000"/>
<rect x="496" y="228" width="1" height="19" fill="#e03030"/>
<rect x="500" y="235" width="1" height="11" fill="#000"/>
<rect x="499" y="243" width="3" height="3" fill="#000"/>
<rect x="500" y="244" width="1" height="1" fill="#33dd33"/>
<rect x="503" y="227" width="1" height="22" fill="#000"/>
<rect x="502" y="229" width="3" height="18" fill="#000"/>
<rect x="503" y="230" width="1" height="16" fill="#33dd33"/>
<rect x="507" y="199" width="1" height="22" fill="#000"/>
<rect x="506" y="202" width="3" height="19" fill="#000"/>
<rect x="507" y="203" width="1" height="17" fill="#33dd33"/>
<rect x="511" y="197" width="1" height="11" fill="#000"/>
<rect x="510" y="197" width="3" height="3" fill="#000"/>
<rect x="511" y="198" width="1" height="1" fill="#33dd33"/>
<rect x="514" y="180" width="1" height="18" fill="#000"/>
<rect x="513" y="183" width="3" height="15" fill="#000"/>
<rect x="514" y="184" width="1" height="13" fill="#33dd33"/>
<rect x="518" y="162" width="1" height="22" fill="#000"/>
<rect x="517" y="165" width="3" height="19" fill="#000"/>
<rect x="518" y="166" width="1" height="17" fill="#33dd33"/>
<rect x="522" y="162" width="1" height="26" fill="#000"/>
<rect x="521" y="165" width="3" height="17" fill="#000"/>
<rect x="522" y="166" width="1" height="15" fill="#e03030"/>
<rect x="525" y="161" width="1" height="18" fill="#000"/>
<rect x="524" y="166" width="3" height="13" fill="#000"/>
<rect x="525" y="167" width="1" height="11" fill="#33dd33"/>
<rect x="529" y="165" width="1" height="13" fill="#000"/>
<rect x="528" y="167" width="3" height="6" fill="#000"/>
<rect x="529" y="168" width="1" height="4" fill="#e03030"/>
<rect x="533" y="175" width="1" height="16" fill="#000"/>
<rect x="532" y="181" width="3" height="2" fill="#000"/>
<rect x="536" y="168" width="1" height="29" fill="#000"/>
<rect x="535" y="174" width="3" height="22" fill="#000"/>
<rect x="536" y="175" width="1" height="20" fill="#e03030"/>
<rect x="540" y="206" width="1" height="20" fill="#000"/>
<rect x="539" y="210" width="3" height="6" fill="#000"/>
<rect x="540" y="211" width="1" height="4" fill="#e03030"/>
<rect x="544" y="195" width="1" height="26" fill="#000"/>
<rect x="543" y="202" width="3" height="19" fill="#000"/>
<rect x="544" y="203" width="1" height="17" fill="#33dd33"/>
<rect x="547" y="194" width="1" height="8" fill="#000"/>
<rect x="546" y="197" width="3" height="3" fill="#000"/>
<rect x="547" y="198" width="1" height="1" fill="#e03030"/>
<rect x="551" y="173" width="1" height="10" fill="#000"/>
<rect x="550" y="179" width="3" height="2" fill="#000"/>
<rect x="555" y="174" width="1" height="9" fill="#000"/>
<rect x="554" y="180" width="3" height="1" fill="#000"/>
<rect x="558" y="176" width="1" height="12" fill="#000"/>
<rect x="557" y="180" width="3" height="8" fill="#000"/>
<rect x="558" y="181" width="1" height="6" fill="#e03030"/>
<rect x="562" y="181" width="1" height="8" fill="#000"/>
<rect x="561" y="182" width="3" height="4" fill="#000"/>
<rect x="562" y="183" width="1" height="2" fill="#33dd33"/>
<rect x="566" y="178" width="1" height="14" fill="#000"/>
<rect x="565" y="184" width="3" height="3" fill="#000"/>
<rect x="566" y="185" width="1" height="1" fill="#e03030"/>
<rect x="569" y="176" width="1" height="14" fill="#000"/>
<rect x="568" y="176" width="3" height="8" fill="#000"/>
<rect x="569" y="177" width="1" height="6" fill="#33dd33"/>
<rect x="573" y="191" width="1" height="17" fill="#000"/>
<rect x="572" y="193" width="3" height="11" fill="#000"/>
<rect x="573" y="194" width="1" height="9" fill="#e03030"/>
<rect x="577" y="184" width="1" height="16" fill="#000"/>
<rect x="576" y="184" width="3" height="12" fill="#000"/>
<rect x="577" y="185" width="1" height="10" fill="#33dd33"/>
<rect x="580" y="162" width="1" height="23" fill="#000"/>
<rect x="579" y="162" width="3" height="23" fill="#000"/>
<rect x="580" y="163" width="1" height="21" fill="#33dd33"/>
<rect x="584" y="161" width="1" height="13" fill="#000"/>
<rect x="583" y="161" width="3" height="13" fill="#000"/>
<rect x="584" y="162" width="1" height="11" fill="#e03030"/>
<rect x="588" y="163" width="1" height="7" fill="#000"/>
<rect x="587" y="164" width="3" height="6" fill="#000"/>
<rect x="588" y="165" width="1" height="4" fill="#e03030"/>
<rect x="591" y="152" width="1" height="14" fill="#000"/>
<rect x="590" y="153" width="3" height="13" fill="#000"/>
<rect x="591" y="154" width="1" height="11" fill="#33dd33"/>
<rect x="595" y="142" width="1" height="9" fill="#000"/>
<rect x="594" y="144" width="3" height="2" fill="#000"/>
<rect x="599" y="140" width="1" height="7" fill="#000"/>
<rect x="598" y="141" width="3" height="4" fill="#000"/>
<rect x="599" y="142" width="1" height="2" fill="#33dd33"/>
<rect x="602" y="131" width="1" height="11" fill="#000"/>
<rect x="601" y="133" width="3" height="9" fill="#000"/>
<rect x="602" y="134" width="1" height="7" fill="#e03030"/>
<rect x="606" y="140" width="1" height="8" fill="#000"/>
<rect x="605" y="142" width="3" height="3" fill="#000"/>
<rect x="606" y="143" width="1" height="1" fill="#e03030"/>
<rect x="610" y="137" width="1" height="16" fill="#000"/>
<rect x="609" y="144" width="3" height="5" fill="#000"/>
<rect x="610" y="145" width="1" height="3" fill="#e03030"/>
<rect x="613" y="146" width="1" height="12" fill="#000"/>
<rect x="612" y="146" width="3" height="3" fill="#000"/>
<rect x="613" y="147" width="1" height="1" fill="#33dd33"/>
<rect x="617" y="142" width="1" height="7" fill="#000"/>
<rect x="616" y="142" width="3" height="3" fill="#000"/>
<rect x="617" y="143" width="1" height="1" fill="#e03030"/>
<rect x="621" y="141" width="1" height="9" fill="#000"/>
<rect x="620" y="143" width="3" height="5" fill="#000"/>
<rect x="621" y="144" width="1" height="3" fill="#33dd33"/>
<rect x="624" y="133" width="1" height="12" fill="#000"/>
<rect x="623" y="133" width="3" height="10" fill="#000"/>
<rect x="624" y="134" width="1" height="8" fill="#33dd33"/>
<rect x="628" y="133" width="1" height="13" fill="#000"/>
<rect x="627" y="133" width="3" height="10" fill="#000"/>
<rect x="628" y="134" width="1" height="8" fill="#e03030"/>
<rect x="632" y="140" width="1" height="16" fill="#000"/>
<rect x="631" y="142" width="3" height="14" fill="#000"/>
<rect x="632" y="143" width="1" height="12" fill="#e03030"/>
<rect x="635" y="151" width="1" height="5" fill="#000"/>
<rect x="634" y="152" width="3" height="4" fill="#000"/>
<rect x="635" y="153" width="1" height="2" fill="#33dd33"/>
<rect x="639" y="146" width="1" height="10" fill="#000"/>
<rect x="638" y="148" width="3" height="6" fill="#000"/>
<rect x="639" y="149" width="1" height="4" fill="#33dd33"/>
<rect x="643" y="144" width="1" height="6" fill="#000"/>
<rect x="642" y="148" width="3" height="2" fill="#000"/>
<rect x="646" y="147" width="1" height="6" fill="#000"/>
<rect x="645" y="148" width="3" height="5" fill="#000"/>
<rect x="646" y="149" width="1" height="3" fill="#e03030"/>
<rect x="650" y="151" width="1" height="11" fill="#000"/>
<rect x="649" y="151" width="3" height="10" fill="#000"/>
<rect x="650" y="152" width="1" height="8" fill="#e03030"/>
<rect x="654" y="148" width="1" height="16" fill="#000"/>
<rect x="653" y="153" width="3" height="9" fill="#000"/>
<rect x="654" y="154" width="1" height="7" fill="#33dd33"/>
<rect x="658" y="144" width="1" height="15" fill="#000"/>
<rect x="657" y="145" width="3" height="8" fill="#000"/>
<rect x="658" y="146" width="1" height="6" fill="#33dd33"/>
<rect x="661" y="127" width="1" height="14" fill="#000"/>
<rect x="660" y="129" width="3" height="10" fill="#000"/>
<rect x="661" y="130" width="1" height="8" fill="#33dd33"/>
<rect x="665" y="122" width="1" height="8" fill="#000"/>
<rect x="664" y="124" width="3" height="5" fill="#000"/>
<rect x="665" y="125" width="1" height="3" fill="#33dd33"/>
<rect x="669" y="87" width="1" height="38" fill="#000"/>
<rect x="668" y="87" width="3" height="37" fill="#000"/>
<rect x="669" y="88" width="1" height="35" fill="#33dd33"/>
<rect x="672" y="80" width="1" height="14" fill="#000"/>
<rect x="671" y="82" width="3" height="9" fill="#000"/>
<rect x="672" y="83" width="1" height="7" fill="#33dd33"/>
<rect x="676" y="78" width="1" height="11" fill="#000"/>
<rect x="675" y="82" width="3" height="4" fill="#000"/>
<rect x="676" y="83" width="1" height="2" fill="#e03030"/>
<rect x="680" y="75" width="1" height="33" fill="#000"/>
<rect x="679" y="77" width="3" height="21" fill="#000"/>
<rect x="680" y="78" width="1" height="19" fill="#e03030"/>
<rect x="683" y="101" width="1" height="15" fill="#000"/>
<rect x="682" y="103" width="3" height="8" fill="#000"/>
<rect x="683" y="104" width="1" height="6" fill="#e03030"/>
<rect x="687" y="97" width="1" height="8" fill="#000"/>
<rect x="686" y="102" width="3" height="1" fill="#000"/>
<rect x="691" y="87" width="1" height="15" fill="#000"/>
<rect x="690" y="92" width="3" height="9" fill="#000"/>
<rect x="691" y="93" width="1" height="7" fill="#33dd33"/>
<rect x="694" y="93" width="1" height="19" fill="#000"/>
<rect x="693" y="93" width="3" height="12" fill="#000"/>
<rect x="694" y="94" width="1" height="10" fill="#e03030"/>
<rect x="698" y="101" width="1" height="14" fill="#000"/>
<rect x="697" y="103" width="3" height="9" fill="#000"/>
<rect x="698" y="104" width="1" height="7" fill="#e03030"/>
<rect x="702" y="118" width="1" height="14" fill="#000"/>
<rect x="701" y="120" width="3" height="8" fill="#000"/>
<rect x="702" y="121" width="1" height="6" fill="#e03030"/>
<rect x="705" y="132" width="1" height="23" fill="#000"/>
<rect x="704" y="135" width="3" height="16" fill="#000"/>
<rect x="705" y="136" width="1" height="14" fill="#e03030"/>
<rect x="709" y="133" width="1" height="11" fill="#000"/>
<rect x="708" y="136" width="3" height="6" fill="#000"/>
<rect x="709" y="137" width="1" height="4" fill="#33dd33"/>
<rect x="713" y="127" width="1" height="25" fill="#000"/>
<rect x="712" y="138" width="3" height="6" fill="#000"/>
<rect x="713" y="139" width="1" height="4" fill="#e03030"/>
<rect x="716" y="129" width="1" height="19" fill="#000"/>
<rect x="715" y="134" width="3" height="12" fill="#000"/>
<rect x="716" y="135" width="1" height="10" fill="#e03030"/>
<rect x="720" y="135" width="1" height="11" fill="#000"/>
<rect x="719" y="135" width="3" height="11" fill="#000"/>
<rect x="720" y="136" width="1" height="9" fill="#33dd33"/>
<rect x="724" y="120" width="1" height="12" fill="#000"/>
<rect x="723" y="120" width="3" height="12" fill="#000"/>
<rect x="724" y="121" width="1" height="10" fill="#33dd33"/>
<rect x="727" y="118" width="1" height="9" fill="#000"/>
<rect x="726" y="121" width="3" height="3" fill="#000"/>
<rect x="727" y="122" width="1" height="1" fill="#33dd33"/>
<rect x="731" y="110" width="1" height="17" fill="#000"/>
<rect x="730" y="110" width="3" height="12" fill="#000"/>
<rect x="731" y="111" width="1" height="10" fill="#33dd33"/>
<rect x="735" y="111" width="1" height="8" fill="#000"/>
<rect x="734" y="111" width="3" height="7" fill="#000"/>
<rect x="735" y="112" width="1" height="5" fill="#33dd33"/>
<rect x="738" y="106" width="1" height="9" fill="#000"/>
<rect x="737" y="107" width="3" height="5" fill="#000"/>
<rect x="738" y="108" width="1" height="3" fill="#33dd33"/>
<rect x="742" y="97" width="1" height="5" fill="#000"/>
<rect x="741" y="98" width="3" height="3" fill="#000"/>
<rect x="742" y="99" width="1" height="1" fill="#33dd33"/>
<rect x="746" y="95" width="1" height="9" fill="#000"/>
<rect x="745" y="96" width="3" height="6" fill="#000"/>
<rect x="746" y="97" width="1" height="4" fill="#33dd33"/>
<rect x="749" y="86" width="1" height="12" fill="#000"/>
<rect x="748" y="95" width="3" height="3" fill="#000"/>
<rect x="749" y="96" width="1" height="1" fill="#33dd33"/>
<rect x="753" y="68" width="1" height="27" fill="#000"/>
<rect x="752" y="91" width="3" height="2" fill="#000"/>
<rect x="757" y="88" width="1" height="5" fill="#000"/>
<rect x="756" y="89" width="3" height="3" fill="#000"/>
<rect x="757" y="90" width="1" height="1" fill="#33dd33"/>
<rect x="760" y="87" width="1" height="13" fill="#000"/>
<rect x="759" y="87" width="3" height="13" fill="#000"/>
<rect x="760" y="88" width="1" height="11" fill="#e03030"/>
<rect x="764" y="79" width="1" height="17" fill="#000"/>
<rect x="763" y="79" width="3" height="16" fill="#000"/>
<rect x="764" y="80" width="1" height="14" fill="#33dd33"/>
<rect x="768" y="70" width="1" height="8" fill="#000"/>
<rect x="767" y="72" width="3" height="5" fill="#000"/>
<rect x="768" y="73" width="1" height="3" fill="#33dd33"/>
<rect x="771" y="72" width="1" height="6" fill="#000"/>
<rect x="770" y="72" width="3" height="5" fill="#000"/>
<rect x="771" y="73" width="1" height="3" fill="#e03030"/>
<rect x="775" y="82" width="1" height="7" fill="#000"/>
<rect x="774" y="82" width="3" height="5" fill="#000"/>
<rect x="775" y="83" width="1" height="3" fill="#e03030"/>
<rect x="779" y="84" width="1" height="8" fill="#000"/>
<rect x="778" y="85" width="3" height="5" fill="#000"/>
<rect x="779" y="86" width="1" height="3" fill="#33dd33"/>
<rect x="782" y="89" width="1" height="7" fill="#000"/>
<rect x="781" y="92" width="3" height="1" fill="#000"/>
<rect x="786" y="87" width="1" height="9" fill="#000"/>
<rect x="785" y="90" width="3" height="6" fill="#000"/>
<rect x="786" y="91" width="1" height="4" fill="#e03030"/>
<rect x="790" y="94" width="1" height="7" fill="#000"/>
<rect x="789" y="95" width="3" height="5" fill="#000"/>
<rect x="790" y="96" width="1" height="3" fill="#e03030"/>
<rect x="793" y="87" width="1" height="12" fill="#000"/>
<rect x="792" y="87" width="3" height="12" fill="#000"/>
<rect x="793" y="88" width="1" height="10" fill="#33dd33"/>
<rect x="797" y="82" width="1" height="20" fill="#000"/>
<rect x="796" y="96" width="3" height="2" fill="#000"/>
<rect x="801" y="103" width="1" height="5" fill="#000"/>
<rect x="800" y="104" width="3" height="4" fill="#000"/>
<rect x="801" y="105" width="1" height="2" fill="#e03030"/>
<rect x="804" y="102" width="1" height="5" fill="#000"/>
<rect x="803" y="103" width="3" height="2" fill="#000"/>
<rect x="808" y="104" width="1" height="12" fill="#000"/>
<rect x="807" y="104" width="3" height="9" fill="#000"/>
<rect x="808" y="105" width="1" height="7" fill="#e03030"/>
<rect x="812" y="105" width="1" height="6" fill="#000"/>
<rect x="811" y="106" width="3" height="2" fill="#000"/>
<rect x="815" y="112" width="1" height="20" fill="#000"/>
<rect x="814" y="117" width="3" height="9" fill="#000"/>
<rect x="815" y="118" width="1" height="7" fill="#e03030"/>
<rect x="819" y="129" width="1" height="17" fill="#000"/>
<rect x="818" y="131" width="3" height="15" fill="#000"/>
<rect x="819" y="132" width="1" height="13" fill="#e03030"/>
<rect x="823" y="145" width="1" height="53" fill="#000"/>
<rect x="822" y="145" width="3" height="47" fill="#000"/>
<rect x="823" y="146" width="1" height="45" fill="#e03030"/>
<rect x="826" y="179" width="1" height="23" fill="#000"/>
<rect x="825" y="183" width="3" height="16" fill="#000"/>
<rect x="826" y="184" width="1" height="14" fill="#33dd33"/>
<rect x="830" y="178" width="1" height="13" fill="#000"/>
<rect x="829" y="179" width="3" height="8" fill="#000"/>
<rect x="830" y="180" width="1" height="6" fill="#33dd33"/>
<rect x="834" y="177" width="1" height="18" fill="#000"/>
<rect x="833" y="179" width="3" height="9" fill="#000"/>
<rect x="834" y="180" width="1" height="7" fill="#e03030"/>
<rect x="837" y="189" width="1" height="13" fill="#000"/>
<rect x="836" y="189" width="3" height="11" fill="#000"/>
<rect x="837" y="190" width="1" height="9" fill="#e03030"/>
<rect x="841" y="190" width="1" height="13" fill="#000"/>
<rect x="840" y="193" width="3" height="10" fill="#000"/>
<rect x="841" y="194" width="1" height="8" fill="#33dd33"/>
<rect x="845" y="192" width="1" height="8" fill="#000"/>
<rect x="844" y="194" width="3" height="5" fill="#000"/>
<rect x="845" y="195" width="1" height="3" fill="#e03030"/>
<rect x="848" y="199" width="1" height="12" fill="#000"/>
<rect x="847" y="201" width="3" height="8" fill="#000"/>
<rect x="848" y="202" width="1" height="6" fill="#e03030"/>
<rect x="852" y="192" width="1" height="32" fill="#000"/>
<rect x="851" y="193" width="3" height="18" fill="#000"/>
<rect x="852" y="194" width="1" height="16" fill="#33dd33"/>
<rect x="856" y="161" width="1" height="11" fill="#000"/>
<rect x="855" y="165" width="3" height="1" fill="#000"/>
<rect x="859" y="159" width="1" height="11" fill="#000"/>
<rect x="858" y="161" width="3" height="9" fill="#000"/>
<rect x="859" y="162" width="1" height="7" fill="#e03030"/>
<rect x="863" y="149" width="1" height="13" fill="#000"/>
<rect x="862" y="151" width="3" height="10" fill="#000"/>
<rect x="863" y="152" width="1" height="8" fill="#33dd33"/>
<rect x="867" y="151" width="1" height="12" fill="#000"/>
<rect x="866" y="151" width="3" height="9" fill="#000"/>
<rect x="867" y="152" width="1" height="7" fill="#e03030"/>
<rect x="871" y="140" width="1" height="18" fill="#000"/>
<rect x="870" y="142" width="3" height="15" fill="#000"/>
<rect x="871" y="143" width="1" height="13" fill="#33dd33"/>
<rect x="874" y="141" width="1" height="11" fill="#000"/>
<rect x="873" y="142" width="3" height="8" fill="#000"/>
<rect x="874" y="143" width="1" height="6" fill="#e03030"/>
<rect x="878" y="110" width="1" height="30" fill="#000"/>
<rect x="877" y="113" width="3" height="26" fill="#000"/>
<rect x="878" y="114" width="1" height="24" fill="#33dd33"/>
<rect x="882" y="100" width="1" height="15" fill="#000"/>
<rect x="881" y="102" width="3" height="11" fill="#000"/>
<rect x="882" y="103" width="1" height="9" fill="#33dd33"/>
<rect x="885" y="101" width="1" height="23" fill="#000"/>
<rect x="884" y="102" width="3" height="17" fill="#000"/>
<rect x="885" y="103" width="1" height="15" fill="#e03030"/>
<rect x="889" y="101" width="1" height="24" fill="#000"/>
<rect x="888" y="103" width="3" height="22" fill="#000"/>
<rect x="889" y="104" width="1" height="20" fill="#33dd33"/>
<rect x="893" y="97" width="1" height="11" fill="#000"/>
<rect x="892" y="104" width="3" height="3" fill="#000"/>
<rect x="893" y="105" width="1" height="1" fill="#e03030"/>
<rect x="896" y="103" width="1" height="13" fill="#000"/>
<rect x="895" y="104" width="3" height="3" fill="#000"/>
<rect x="896" y="105" width="1" height="1" fill="#e03030"/>
<rect x="900" y="98" width="1" height="11" fill="#000"/>
<rect x="899" y="100" width="3" height="3" fill="#000"/>
<rect x="900" y="101" width="1" height="1" fill="#e03030"/>
<rect x="904" y="76" width="1" height="29" fill="#000"/>
<rect x="903" y="79" width="3" height="25" fill="#000"/>
<rect x="904" y="80" width="1" height="23" fill="#33dd33"/>
<rect x="907" y="77" width="1" height="11" fill="#000"/>
<rect x="906" y="79" width="3" height="6" fill="#000"/>
<rect x="907" y="80" width="1" height="4" fill="#e03030"/>
<rect x="911" y="66" width="1" height="26" fill="#000"/>
<rect x="910" y="80" width="3" height="5" fill="#000"/>
<rect x="911" y="81" width="1" height="3" fill="#e03030"/>
<rect x="915" y="79" width="1" height="21" fill="#000"/>
<rect x="914" y="79" width="3" height="12" fill="#000"/>
<rect x="915" y="80" width="1" height="10" fill="#33dd33"/>
<rect x="918" y="79" width="1" height="25" fill="#000"/>
<rect x="917" y="80" width="3" height="23" fill="#000"/>
<rect x="918" y="81" width="1" height="21" fill="#e03030"/>
<rect x="922" y="91" width="1" height="17" fill="#000"/>
<rect x="921" y="97" width="3" height="11" fill="#000"/>
<rect x="922" y="98" width="1" height="9" fill="#e03030"/>
<rect x="926" y="108" width="1" height="15" fill="#000"/>
<rect x="925" y="117" width="3" height="4" fill="#000"/>
<rect x="926" y="118" width="1" height="2" fill="#e03030"/>
<rect x="929" y="137" width="1" height="51" fill="#000"/>
<rect x="928" y="138" width="3" height="4" fill="#000"/>
<rect x="929" y="139" width="1" height="2" fill="#33dd33"/>
<rect x="933" y="136" width="1" height="21" fill="#000"/>
<rect x="932" y="138" width="3" height="15" fill="#000"/>
<rect x="933" y="139" width="1" height="13" fill="#e03030"/>
<rect x="937" y="147" width="1" height="16" fill="#000"/>
<rect x="936" y="152" width="3" height="10" fill="#000"/>
<rect x="937" y="153" width="1" height="8" fill="#e03030"/>
<rect x="940" y="157" width="1" height="20" fill="#000"/>
<rect x="939" y="164" width="3" height="12" fill="#000"/>
<rect x="940" y="165" width="1" height="10" fill="#33dd33"/>
<rect x="944" y="142" width="1" height="27" fill="#000"/>
<rect x="943" y="148" width="3" height="18" fill="#000"/>
<rect x="944" y="149" width="1" height="16" fill="#33dd33"/>
<rect x="948" y="146" width="1" height="17" fill="#000"/>
<rect x="947" y="148" width="3" height="10" fill="#000"/>
<rect x="948" y="149" width="1" height="8" fill="#e03030"/>
<rect x="951" y="158" width="1" height="30" fill="#000"/>
<rect x="950" y="158" width="3" height="30" fill="#000"/>
<rect x="951" y="159" width="1" height="28" fill="#e03030"/>
<rect x="955" y="169" width="1" height="39" fill="#000"/>
<rect x="954" y="172" width="3" height="24" fill="#000"/>
<rect x="955" y="173" width="1" height="22" fill="#33dd33"/>
<rect x="959" y="178" width="1" height="12" fill="#000"/>
<rect x="958" y="178" width="3" height="10" fill="#000"/>
<rect x="959" y="179" width="1" height="8" fill="#e03030"/>
<rect x="962" y="163" width="1" height="9" fill="#000"/>
<rect x="961" y="165" width="3" height="4" fill="#000"/>
<rect x="962" y="166" width="1" height="2" fill="#33dd33"/>
<rect x="966" y="151" width="1" height="20" fill="#000"/>
<rect x="965" y="153" width="3" height="15" fill="#000"/>
<rect x="966" y="154" width="1" height="13" fill="#33dd33"/>
<rect x="970" y="140" width="1" height="15" fill="#000"/>
<rect x="969" y="143" width="3" height="6" fill="#000"/>
<rect x="970" y="144" width="1" height="4" fill="#33dd33"/>
<rect x="973" y="121" width="1" height="27" fill="#000"/>
<rect x="972" y="121" width="3" height="22" fill="#000"/>
<rect x="973" y="122" width="1" height="20" fill="#33dd33"/>
<rect x="977" y="108" width="1" height="17" fill="#000"/>
<rect x="976" y="120" width="3" height="4" fill="#000"/>
<rect x="977" y="121" width="1" height="2" fill="#33dd33"/>
<rect x="981" y="102" width="1" height="11" fill="#000"/>
<rect x="980" y="103" width="3" height="9" fill="#000"/>
<rect x="981" y="104" width="1" height="7" fill="#33dd33"/>
<rect x="984" y="98" width="1" height="9" fill="#000"/>
<rect x="983" y="99" width="3" height="3" fill="#000"/>
<rect x="984" y="100" width="1" height="1" fill="#e03030"/>
<rect x="988" y="99" width="1" height="6" fill="#000"/>
<rect x="987" y="102" width="3" height="1" fill="#000"/>
<rect x="992" y="100" width="1" height="4" fill="#000"/>
<rect x="991" y="101" width="3" height="2" fill="#000"/>
<rect x="995" y="100" width="1" height="17" fill="#000"/>
<rect x="994" y="101" width="3" height="11" fill="#000"/>
<rect x="995" y="102" width="1" height="9" fill="#e03030"/>
<rect x="999" y="105" width="1" height="9" fill="#000"/>
<rect x="998" y="106" width="3" height="6" fill="#000"/>
<rect x="999" y="107" width="1" height="4" fill="#33dd33"/>
<rect x="1003" y="111" width="1" height="22" fill="#000"/>
<rect x="1002" y="111" width="3" height="21" fill="#000"/>
<rect x="1003" y="112" width="1" height="19" fill="#e03030"/>
<rect x="1006" y="124" width="1" height="10" fill="#000"/>
<rect x="1005" y="129" width="3" height="2" fill="#000"/>
<rect x="1010" y="123" width="1" height="19" fill="#000"/>
<rect x="1009" y="132" width="3" height="10" fill="#000"/>
<rect x="1010" y="133" width="1" height="8" fill="#e03030"/>
<rect x="1014" y="127" width="1" height="12" fill="#000"/>
<rect x="1013" y="129" width="3" height="7" fill="#000"/>
<rect x="1014" y="130" width="1" height="5" fill="#33dd33"/>
<rect x="1017" y="120" width="1" height="12" fill="#000"/>
<rect x="1016" y="122" width="3" height="5" fill="#000"/>
<rect x="1017" y="123" width="1" height="3" fill="#33dd33"/>
<rect x="1021" y="118" width="1" height="10" fill="#000"/>
<rect x="1020" y="125" width="3" height="2" fill="#000"/>
<rect x="1025" y="131" width="1" height="20" fill="#000"/>
<rect x="1024" y="131" width="3" height="18" fill="#000"/>
<rect x="1025" y="132" width="1" height="16" fill="#e03030"/>
<rect x="1028" y="148" width="1" height="16" fill="#000"/>
<rect x="1027" y="153" width="3" height="8" fill="#000"/>
<rect x="1028" y="154" width="1" height="6" fill="#e03030"/>
<rect x="1032" y="145" width="1" height="20" fill="#000"/>
<rect x="1031" y="145" width="3" height="11" fill="#000"/>
<rect x="1032" y="146" width="1" height="9" fill="#e03030"/>
<rect x="1036" y="153" width="1" height="12" fill="#000"/>
<rect x="1035" y="156" width="3" height="5" fill="#000"/>
<rect x="1036" y="157" width="1" height="3" fill="#e03030"/>
<rect x="1039" y="155" width="1" height="7" fill="#000"/>
<rect x="1038" y="159" width="3" height="2" fill="#000"/>
<rect x="1043" y="159" width="1" height="19" fill="#000"/>
<rect x="1042" y="159" width="3" height="15" fill="#000"/>
<rect x="1043" y="160" width="1" height="13" fill="#e03030"/>
<rect x="1047" y="146" width="1" height="12" fill="#000"/>
<rect x="1046" y="150" width="3" height="6" fill="#000"/>
<rect x="1047" y="151" width="1" height="4" fill="#33dd33"/>
<rect x="1050" y="141" width="1" height="12" fill="#000"/>
<rect x="1049" y="142" width="3" height="2" fill="#000"/>
<rect x="1054" y="123" width="1" height="21" fill="#000"/>
<rect x="1053" y="123" width="3" height="20" fill="#000"/>
<rect x="1054" y="124" width="1" height="18" fill="#33dd33"/>
<rect x="1058" y="127" width="1" height="10" fill="#000"/>
<rect x="1057" y="128" width="3" height="1" fill="#000"/>
<rect x="1061" y="120" width="1" height="12" fill="#000"/>
<rect x="1060" y="121" width="3" height="8" fill="#000"/>
<rect x="1061" y="122" width="1" height="6" fill="#33dd33"/>
<rect x="1065" y="122" width="1" height="7" fill="#000"/>
<rect x="1064" y="124" width="3" height="4" fill="#000"/>
<rect x="1065" y="125" width="1" height="2" fill="#e03030"/>
<rect x="1069" y="114" width="1" height="14" fill="#000"/>
<rect x="1068" y="120" width="3" height="6" fill="#000"/>
<rect x="1069" y="121" width="1" height="4" fill="#33dd33"/>
<rect x="1072" y="120" width="1" height="16" fill="#000"/>
<rect x="1071" y="120" width="3" height="12" fill="#000"/>
<rect x="1072" y="121" width="1" height="10" fill="#e03030"/>
<rect x="1076" y="120" width="1" height="14" fill="#000"/>
<rect x="1075" y="123" width="3" height="9" fill="#000"/>
<rect x="1076" y="124" width="1" height="7" fill="#33dd33"/>
<rect x="3" y="1" width="9" height="9" fill="#000"/><rect x="4" y="2" width="7" height="7" fill="#3cf03c"/>
<rect x="3" y="501" width="9" height="9" fill="#000"/><rect x="4" y="502" width="7" height="7" fill="#66dd66"/>
</g>
<line x1="398.5" y1="344.3" x2="1072.4" y2="174.5" stroke="#b2e31c" stroke-width="5.3" stroke-linecap="round"/>
<line x1="922.5" y1="80.9" x2="1074.4" y2="118" stroke="#069fe6" stroke-width="5.3" stroke-linecap="round"/>
<g style="opacity:0.999">
<text x="16.05" y="10" fill="#000" stroke="#000" textLength="21.33" lengthAdjust="spacingAndGlyphs">BYD</text>
<text x="41.45" y="10" fill="#000" stroke="#000" textLength="42.43" lengthAdjust="spacingAndGlyphs">Company</text>
<text x="87.42" y="10" fill="#000" stroke="#000" textLength="3.94" lengthAdjust="spacingAndGlyphs">(</text>
<text x="92.27" y="10" fill="#000" stroke="#000" textLength="34.65" lengthAdjust="spacingAndGlyphs">Nasdaq</text>
<text x="130.63" y="10" fill="#000" stroke="#000" textLength="19.30" lengthAdjust="spacingAndGlyphs">OTC</text>
<text x="154.60" y="10" fill="#000" stroke="#000" textLength="24.41" lengthAdjust="spacingAndGlyphs">Other</text>
<text x="181.75" y="10" fill="#000" stroke="#000" textLength="3.94" lengthAdjust="spacingAndGlyphs">)</text>
<text x="16.05" y="510" fill="#000" stroke="#000" textLength="21.33" lengthAdjust="spacingAndGlyphs">BYD</text>
<text x="41.45" y="510" fill="#000" stroke="#000" textLength="42.43" lengthAdjust="spacingAndGlyphs">Company</text>
<text x="88.16" y="510" fill="#000" stroke="#000" textLength="38.63" lengthAdjust="spacingAndGlyphs">Volumen</text>
<text x="129.51" y="510" fill="#000" stroke="#000" textLength="8.02" lengthAdjust="spacingAndGlyphs">in</text>
<text x="141.39" y="510" fill="#000" stroke="#000" textLength="22.31" lengthAdjust="spacingAndGlyphs">USD</text>
<text x="7.47" y="470" fill="#969696" stroke="#969696" textLength="41.75" lengthAdjust="spacingAndGlyphs">15.06.07</text>
<text x="52.96" y="470" fill="#969696" stroke="#969696" textLength="6.70" lengthAdjust="spacingAndGlyphs">-</text>
<text x="62.98" y="470" fill="#969696" stroke="#969696" textLength="41.39" lengthAdjust="spacingAndGlyphs">17.04.16</text>
<text x="113.44" y="470" fill="#969696" stroke="#969696" textLength="4.59" lengthAdjust="spacingAndGlyphs">1</text>
<text x="122.93" y="470" fill="#969696" stroke="#969696" textLength="16.37" lengthAdjust="spacingAndGlyphs">Tick</text>
<text x="142.57" y="470" fill="#969696" stroke="#969696" textLength="5.21" lengthAdjust="spacingAndGlyphs">=</text>
<text x="150.64" y="470" fill="#969696" stroke="#969696" textLength="4.59" lengthAdjust="spacingAndGlyphs">1</text>
<text x="160.11" y="470" fill="#969696" stroke="#969696" textLength="30.41" lengthAdjust="spacingAndGlyphs">Woche</text>
<text x="66.5" y="488" fill="#000" stroke="#000" text-anchor="middle">2008</text>
<text x="140.5" y="488" fill="#000" stroke="#000" text-anchor="middle">2009</text>
<text x="261.5" y="488" fill="#000" stroke="#000" text-anchor="middle">2012</text>
<text x="448.5" y="488" fill="#000" stroke="#000" text-anchor="middle">2013</text>
<text x="639.5" y="488" fill="#000" stroke="#000" text-anchor="middle">2014</text>
<text x="830.5" y="488" fill="#000" stroke="#000" text-anchor="middle">2015</text>
<text x="1021.5" y="488" fill="#000" stroke="#000" text-anchor="middle">2016</text>
<text x="1081.5" y="146.5" fill="#000" stroke="#000" text-anchor="start">5</text>
<text x="1081.5" y="313.5" fill="#000" stroke="#000" text-anchor="start">2</text>
<text x="1081.5" y="440.5" fill="#000" stroke="#000" text-anchor="start">1</text>
<text x="1081.5" y="523.5" fill="#000" stroke="#000" text-anchor="start">30M</text>
<text x="1081.5" y="556.5" fill="#000" stroke="#000" text-anchor="start">20M</text>
<text x="1081.5" y="589.5" fill="#000" stroke="#000" text-anchor="start">10M</text>
<text x="1081.5" y="623" fill="#000" stroke="#000" text-anchor="start">0M</text>
</g>
</svg>
</body></html>
